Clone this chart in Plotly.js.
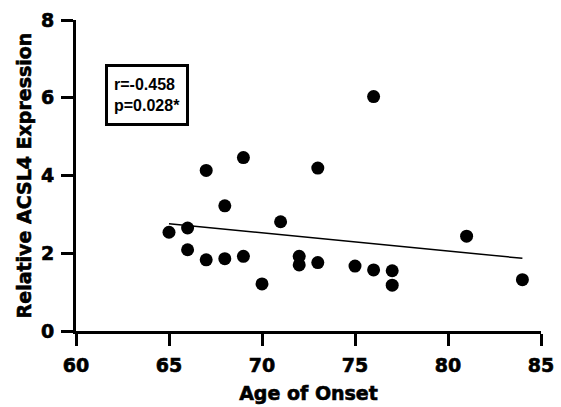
<!DOCTYPE html>
<html>
<head>
<meta charset="utf-8">
<script src="https://cdn.plot.ly/plotly-3.0.1.min.js"></script>
<style>
html,body{margin:0;padding:0;background:#fff;}
#chart{width:561px;height:407px;}
#chart .xtick text, #chart .ytick text, #chart .g-xtitle text, #chart .g-ytitle text { stroke:#000; stroke-width:0.6px; }
</style>
</head>
<body>
<div id="chart"></div>
<script>
// Data
const ageOfOnset = [65, 66, 66, 67, 67, 68, 68, 69, 69, 70, 71, 72, 72, 73, 73, 75, 76, 76, 77, 77, 81, 84];
const acsl4Expression = [2.54, 2.65, 2.09, 4.13, 1.83, 3.22, 1.86, 4.46, 1.92, 1.21, 2.81, 1.92, 1.70, 4.19, 1.76, 1.67, 6.03, 1.57, 1.55, 1.18, 2.44, 1.32];
const fitAge = [65, 84];
const fitExpression = [2.76, 1.87];
const xTicks = [60, 65, 70, 75, 80, 85];
const yTicks = [0, 2, 4, 6, 8];
const statsLines = ["r=-0.458", "p=0.028*"];

const axisFont = {family: "DejaVu Sans", size: 19, color: "#000", weight: "bold"};

const traces = [
  {
    x: ageOfOnset, y: acsl4Expression, type: "scatter", mode: "markers",
    marker: {color: "#000", size: 13, line: {width: 0}},
    hoverinfo: "skip", showlegend: false
  },
  {
    x: fitAge, y: fitExpression, type: "scatter", mode: "lines",
    line: {color: "#000", width: 1.5},
    hoverinfo: "skip", showlegend: false
  }
];

const layout = {
  width: 561, height: 407,
  margin: {l: 76, r: 20, t: 20, b: 76},
  paper_bgcolor: "#fff", plot_bgcolor: "#fff",
  showlegend: false,
  xaxis: {
    range: [60, 85], tickmode: "array", tickvals: xTicks, ticktext: xTicks.map(v => "<b>" + v + "</b>"),
    showgrid: false, zeroline: false,
    showline: true, linecolor: "#000", linewidth: 3,
    ticks: "outside", ticklen: 12, tickwidth: 3, tickcolor: "#000",
    tickfont: axisFont, ticklabelstandoff: 3,
    title: {text: "<b>Age of Onset</b>", font: axisFont, standoff: 12}
  },
  yaxis: {
    range: [0, 8], tickmode: "array", tickvals: yTicks, ticktext: yTicks.map(v => "<b>" + v + "</b>"),
    showgrid: false, zeroline: false,
    showline: true, linecolor: "#000", linewidth: 3,
    ticks: "outside", ticklen: 12, tickwidth: 3, tickcolor: "#000",
    tickfont: axisFont, ticklabelstandoff: 3,
    title: {text: "<b>Relative ACSL4 Expression</b>", font: axisFont, standoff: 5}
  },
  annotations: [{
    xref: "paper", yref: "paper", x: 0.062, y: 0.858,
    xanchor: "left", yanchor: "top", align: "left", valign: "middle",
    text: statsLines.join("<br>"), showarrow: false, height: 44,
    font: {family: "Liberation Sans", size: 16, color: "#000", weight: "bold"},
    bordercolor: "#000", borderwidth: 3, borderpad: 6, bgcolor: "#fff"
  }]
};

Plotly.newPlot("chart", traces, layout, {staticPlot: true, displayModeBar: false});
</script>
</body>
</html>
